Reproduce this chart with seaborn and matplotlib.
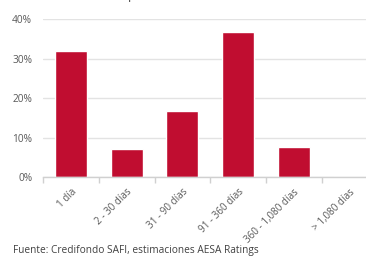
import matplotlib
matplotlib.use("Agg")
import matplotlib.pyplot as plt
import seaborn as sns
import pandas as pd
from matplotlib.ticker import PercentFormatter, FixedLocator

categories = ["1 día", "2 - 30 días", "31 - 90 días", "91 - 360 días", "360 - 1,080 días", "> 1,080 días"]
values = [32.0, 7.0, 16.6, 36.7, 7.5, 0.0]
title = "Cartera por Plazo Remanente a dic.22"
source = "Fuente: Credifondo SAFI, estimaciones AESA Ratings"

sns.set_theme(style="white")
plt.rcParams["font.family"] = ["Open Sans", "DejaVu Sans"]

df = pd.DataFrame({"cat": categories, "val": values})

fig = plt.figure(figsize=(3.66, 2.60), dpi=100)
ax = fig.add_axes([43.3 / 366, 83 / 260, 334 / 366, 158 / 260])
sns.barplot(data=df, x="cat", y="val", color="#C00D30", width=0.575, saturation=1, ax=ax)

ax.set_xlim(-0.5, 5.5)
ax.set_ylim(0, 40)
ax.set_yticks([0, 10, 20, 30, 40])
ax.yaxis.set_major_formatter(PercentFormatter(decimals=0))
ax.grid(axis="y", color="#E3E3E3", linewidth=1)
ax.set_axisbelow(True)
for s in ["top", "right", "left"]:
    ax.spines[s].set_visible(False)
ax.spines["bottom"].set_color("#D0D0D0")
ax.spines["bottom"].set_linewidth(1)
ax.set_xlabel("")
ax.set_ylabel("")

ax.tick_params(axis="y", length=0, pad=8, labelsize=7.3, labelcolor="#595959")
ax.tick_params(axis="x", which="major", length=0, pad=7, labelsize=7.1, labelcolor="#595959")
ax.xaxis.set_minor_locator(FixedLocator([i - 0.5 for i in range(len(categories) + 1)]))
ax.tick_params(axis="x", which="minor", length=4, color="#D0D0D0", width=1, bottom=True)
for lab in ax.get_xticklabels():
    lab.set_rotation(45)
    lab.set_ha("right")
    lab.set_rotation_mode("anchor")

fig.text(198 / 366, 1 + 2 / 260, title, ha="center", va="baseline", fontsize=10, color="#595959")
fig.text(13 / 366, 10 / 260, source, ha="left", va="center", fontsize=7.3, color="#404040")

fig.savefig("out.png", dpi=100)
